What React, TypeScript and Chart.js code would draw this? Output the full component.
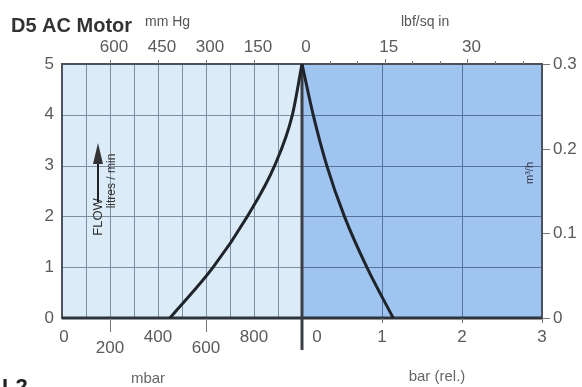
import React, { useEffect, useRef } from "react";
import { Chart, registerables } from "chart.js";

Chart.register(...registerables);

// Vacuum side (absolute pressure, mbar) vs flow (litres/min)
const leftMbar = [450, 630, 772, 886, 960, 1000];
const leftFlow = [0, 1, 2, 3, 4, 5];
// Pressure side (bar rel.) vs flow (litres/min)
const rightBar = [0, 0.14, 0.31, 0.53, 0.81, 1.14];
const rightFlow = [5, 4, 3, 2, 1, 0];

// Tick labels
const mbarTicks = [0, 200, 400, 600, 800];
const barTicks = [0, 1, 2, 3];
const mmHgTicks = [600, 450, 300, 150];
const psiTicks = [0, 15, 30];
const psiMinor = [5, 10, 20, 25, 35, 40];
const flowTicks = [0, 1, 2, 3, 4, 5];
const m3hTicks = [0, 0.1, 0.2, 0.3];

// Grid lines
const mbarGrid = [100, 200, 300, 400, 500, 600, 700, 800, 900];
const barGrid = [1, 2];
const flowGrid = [1, 2, 3, 4];

const FONT = '"Liberation Sans", Arial, Helvetica, sans-serif';

export default function App() {
  const ref = useRef<HTMLCanvasElement>(null);

  useEffect(() => {
    if (!ref.current) return;

    const deco = {
      id: "deco",
      beforeDatasetsDraw(chart: any) {
        const { ctx, chartArea: a, scales } = chart;
        const xm = scales.xm, xb = scales.xb, y = scales.y;
        const mid = xm.getPixelForValue(1000);
        const right = xb.getPixelForValue(3);
        ctx.save();
        ctx.fillStyle = "#dcebf8";
        ctx.fillRect(a.left, a.top, mid - a.left, a.bottom - a.top);
        ctx.fillStyle = "#9fc4ef";
        ctx.fillRect(mid, a.top, right - mid, a.bottom - a.top);

        ctx.lineWidth = 1;
        ctx.strokeStyle = "#7f8fa2";
        for (const v of mbarGrid) {
          const x = Math.round(xm.getPixelForValue(v)) + 0.5;
          ctx.beginPath();
          ctx.moveTo(x, a.top);
          ctx.lineTo(x, a.bottom);
          ctx.stroke();
        }
        for (const v of flowGrid) {
          const yy = Math.round(y.getPixelForValue(v)) + 0.5;
          ctx.beginPath();
          ctx.moveTo(a.left, yy);
          ctx.lineTo(mid, yy);
          ctx.stroke();
        }
        ctx.strokeStyle = "#55719c";
        for (const v of barGrid) {
          const x = Math.round(xb.getPixelForValue(v)) + 0.5;
          ctx.beginPath();
          ctx.moveTo(x, a.top);
          ctx.lineTo(x, a.bottom);
          ctx.stroke();
        }
        for (const v of flowGrid) {
          const yy = Math.round(y.getPixelForValue(v)) + 0.5;
          ctx.beginPath();
          ctx.moveTo(mid, yy);
          ctx.lineTo(right, yy);
          ctx.stroke();
        }

        // frame
        ctx.strokeStyle = "#4a525c";
        ctx.lineWidth = 2;
        ctx.strokeRect(a.left, a.top, right - a.left, a.bottom - a.top);
        ctx.strokeStyle = "#2f343a";
        ctx.lineWidth = 3;
        ctx.beginPath();
        ctx.moveTo(a.left, a.bottom);
        ctx.lineTo(right, a.bottom);
        ctx.stroke();

        // divider
        ctx.strokeStyle = "#3a3f46";
        ctx.lineWidth = 3;
        ctx.beginPath();
        ctx.moveTo(mid, a.top);
        ctx.lineTo(mid, a.bottom + 32);
        ctx.stroke();
        ctx.restore();
      },
      afterDraw(chart: any) {
        const { ctx, chartArea: a, scales } = chart;
        const xm = scales.xm, xb = scales.xb, y = scales.y, y2 = scales.y2;
        const xh = scales.xh, xp = scales.xp;
        const right = xb.getPixelForValue(3);
        ctx.save();

        // title
        ctx.fillStyle = "#333";
        ctx.font = `bold 20px ${FONT}`;
        ctx.textAlign = "left";
        ctx.textBaseline = "alphabetic";
        ctx.fillText("D5 AC Motor", 11, 32);
        ctx.fillStyle = "#555";
        ctx.font = `14px ${FONT}`;
        ctx.fillText("mm Hg", 145, 26);
        ctx.fillText("lbf/sq in", 401, 26);

        // top ticks
        ctx.strokeStyle = "#777";
        ctx.lineWidth = 1;
        const tick = (x: number, len: number) => {
          ctx.beginPath();
          ctx.moveTo(Math.round(x) + 0.5, a.top);
          ctx.lineTo(Math.round(x) + 0.5, a.top - len);
          ctx.stroke();
        };
        for (const v of mmHgTicks) tick(xh.getPixelForValue(v), 4);
        for (const v of psiTicks) if (v !== 0) tick(xp.getPixelForValue(v), 5);
        for (const v of psiMinor) tick(xp.getPixelForValue(v), 3);

        ctx.fillStyle = "#5a5a5a";
        ctx.font = `17px ${FONT}`;
        ctx.textAlign = "center";
        ctx.textBaseline = "middle";
        for (const v of mmHgTicks) ctx.fillText(String(v), xh.getPixelForValue(v) + 4, 47);
        for (const v of psiTicks) ctx.fillText(String(v), xp.getPixelForValue(v) + 4, 47);

        // left y labels
        ctx.textAlign = "right";
        for (const v of flowTicks) ctx.fillText(String(v), 54, y.getPixelForValue(v));

        // right y labels
        ctx.textAlign = "left";
        ctx.strokeStyle = "#777";
        for (const v of m3hTicks) {
          const yy = Math.round(y2.getPixelForValue(v)) + 0.5;
          ctx.beginPath();
          ctx.moveTo(right + 1, yy);
          ctx.lineTo(right + 8, yy);
          ctx.stroke();
          ctx.fillText(String(v), right + 11, yy);
        }

        // bottom left labels (staggered)
        ctx.textAlign = "center";
        mbarTicks.forEach((v, i) => {
          const x = xm.getPixelForValue(v);
          const low = i % 2 === 1;
          if (low) {
            ctx.beginPath();
            ctx.moveTo(Math.round(x) + 0.5, a.bottom);
            ctx.lineTo(Math.round(x) + 0.5, a.bottom + 14);
            ctx.stroke();
          }
          ctx.fillText(String(v), x + (v === 0 ? 2 : 0), low ? a.bottom + 30 : a.bottom + 19);
        });

        // bottom right labels
        for (const v of barTicks) {
          const x = xb.getPixelForValue(v);
          if (v !== 0) {
            ctx.beginPath();
            ctx.moveTo(Math.round(x) + 0.5, a.bottom);
            ctx.lineTo(Math.round(x) + 0.5, a.bottom + 5);
            ctx.stroke();
          }
          ctx.fillText(String(v), v === 0 ? x + 15 : x, a.bottom + 19);
        }

        ctx.fillStyle = "#666";
        ctx.font = `15px ${FONT}`;
        ctx.fillText("mbar", 148, 379);
        ctx.fillText("bar (rel.)", 437, 377);

        // L2 (cut off at bottom)
        ctx.fillStyle = "#222";
        ctx.font = `bold 22px ${FONT}`;
        ctx.textAlign = "left";
        ctx.textBaseline = "top";
        ctx.fillText("L2", 2, 377);

        // FLOW annotation
        ctx.fillStyle = "#333";
        ctx.save();
        ctx.translate(98, 217);
        ctx.rotate(-Math.PI / 2);
        ctx.font = `13px ${FONT}`;
        ctx.textAlign = "center";
        ctx.textBaseline = "middle";
        ctx.fillText("FLOW", 0, 0);
        ctx.restore();
        ctx.strokeStyle = "#222";
        ctx.lineWidth = 2;
        ctx.beginPath();
        ctx.moveTo(98, 202);
        ctx.lineTo(98, 160);
        ctx.stroke();
        ctx.beginPath();
        ctx.moveTo(98, 143);
        ctx.lineTo(103, 164);
        ctx.lineTo(93, 164);
        ctx.closePath();
        ctx.fill();
        ctx.save();
        ctx.translate(112, 181);
        ctx.rotate(-Math.PI / 2);
        ctx.font = `12px ${FONT}`;
        ctx.textAlign = "center";
        ctx.textBaseline = "middle";
        ctx.fillText("litres / min", 0, 0);
        ctx.restore();

        // m³/h
        ctx.save();
        ctx.translate(530, 173);
        ctx.rotate(-Math.PI / 2);
        ctx.font = `11px ${FONT}`;
        ctx.textAlign = "center";
        ctx.textBaseline = "middle";
        ctx.fillStyle = "#334";
        ctx.fillText("m³/h", 0, 0);
        ctx.restore();

        ctx.restore();
      },
    };

    const chart = new Chart(ref.current, {
      type: "scatter",
      data: {
        datasets: [
          {
            label: "vacuum",
            data: leftMbar.map((x, i) => ({ x, y: leftFlow[i] })),
            xAxisID: "xm",
            yAxisID: "y",
            showLine: true,
            borderColor: "#1f242b",
            borderWidth: 3,
            pointRadius: 0,
            cubicInterpolationMode: "monotone",
          },
          {
            label: "pressure",
            data: rightBar.map((x, i) => ({ x, y: rightFlow[i] })),
            xAxisID: "xb",
            yAxisID: "y",
            showLine: true,
            borderColor: "#1f242b",
            borderWidth: 3,
            pointRadius: 0,
            cubicInterpolationMode: "monotone",
          },
        ],
      },
      options: {
        responsive: false,
        animation: false,
        devicePixelRatio: 1,
        layout: { padding: { left: 62, top: 64, right: 40, bottom: 69 } },
        plugins: { legend: { display: false }, tooltip: { enabled: false } },
        scales: {
          xm: { type: "linear", position: "bottom", min: 0, max: 2000, display: false },
          xb: { type: "linear", position: "bottom", min: -3, max: 3, display: false },
          xh: { type: "linear", position: "top", min: -750, max: 750, reverse: true, display: false },
          xp: { type: "linear", position: "top", min: -43.51, max: 43.51, display: false },
          y: { type: "linear", position: "left", min: 0, max: 5, display: false },
          y2: { type: "linear", position: "right", min: 0, max: 0.3, display: false },
        },
      } as any,
      plugins: [deco],
    });

    return () => chart.destroy();
  }, []);

  return (
    <canvas
      ref={ref}
      width={582}
      height={387}
      style={{ position: "fixed", left: 0, top: 0, width: 582, height: 387 }}
    />
  );
}
